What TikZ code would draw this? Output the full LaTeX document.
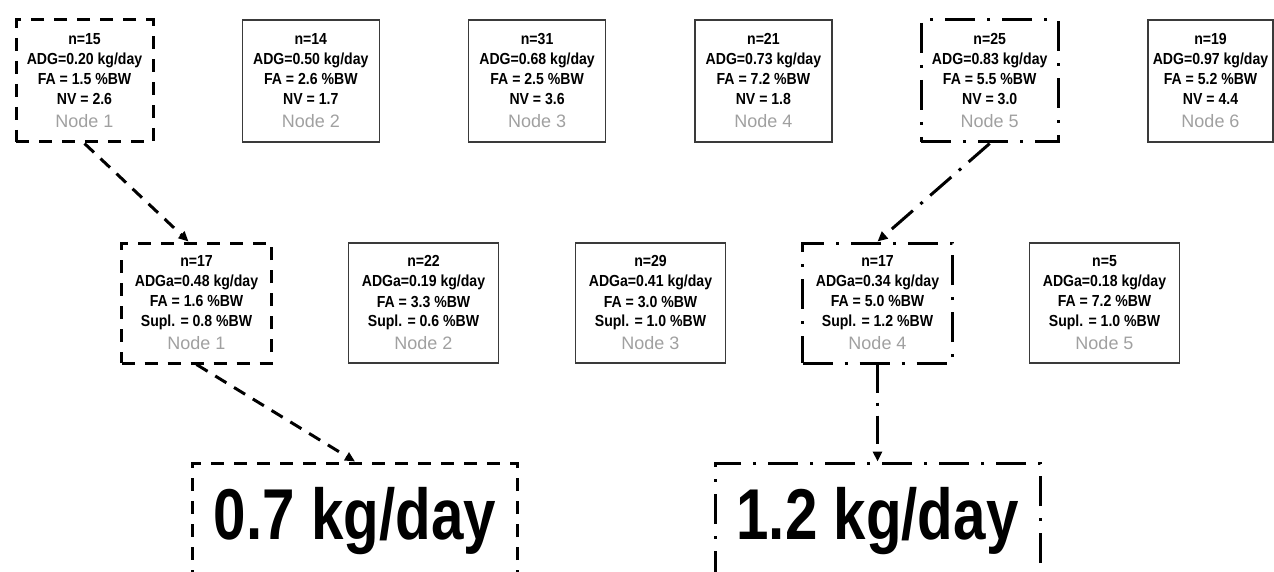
\documentclass[tikz,border=0pt]{standalone}
\usepackage{fontspec}
\setmainfont{Liberation Sans}
\newfontfamily\narrowfont{Liberation Sans}[FakeStretch=0.88]
\newfontfamily\bignarrow{Liberation Sans}[FakeStretch=0.81]
\usetikzlibrary{arrows.meta}
\definecolor{lbl}{HTML}{A0A0A0}
\definecolor{edgec}{HTML}{3A3A3A}
\tikzset{
 box/.style={rectangle, align=center, inner sep=0pt, font=\narrowfont\bfseries\fontsize{16}{20}\selectfont},
 topbox/.style={box, minimum width=137pt, minimum height=122pt},
 midbox/.style={box, minimum width=150pt, minimum height=120pt},
 plainbox/.style={draw=edgec, line width=1.5pt},
 dashbox/.style={draw=black, line width=3pt, dash pattern=on 13pt off 10pt},
 dotbox/.style={draw=black, line width=3pt, dash pattern=on 30pt off 12pt on 3pt off 12pt},
 bigbox/.style={rectangle, inner sep=0pt, minimum width=325pt, minimum height=117pt, font=\bignarrow\bfseries\fontsize{72}{80}\selectfont},
 conn/.style={line width=3pt, -{Triangle[length=10pt,width=9pt]}},
 dashconn/.style={conn, dash pattern=on 13pt off 9pt},
 dotconn/.style={conn, dash pattern=on 28pt off 10pt on 3pt off 10pt},
}
\newcommand{\nlab}[1]{\\[3pt]{\normalfont\fontsize{18}{20}\selectfont\color{lbl}#1}}
\begin{document}
\begin{tikzpicture}[x=1pt,y=-1pt]
\useasboundingbox (0,0) rectangle (1274,572);
\clip (0,0) rectangle (1274,572);
% top row
\node[topbox,dashbox] (t1) at (84.5,81) {n=15\\ADG=0.20 kg/day\\FA = 1.5 \%BW\\NV = 2.6\nlab{Node 1}};
\node[topbox,plainbox] (t2) at (310.8,81) {n=14\\ADG=0.50 kg/day\\FA = 2.6 \%BW\\NV = 1.7\nlab{Node 2}};
\node[topbox,plainbox] (t3) at (537.1,81) {n=31\\ADG=0.68 kg/day\\FA = 2.5 \%BW\\NV = 3.6\nlab{Node 3}};
\node[topbox,plainbox] (t4) at (763.4,81) {n=21\\ADG=0.73 kg/day\\FA = 7.2 \%BW\\NV = 1.8\nlab{Node 4}};
\node[topbox,dotbox] (t5) at (989.7,81) {n=25\\ADG=0.83 kg/day\\FA = 5.5 \%BW\\NV = 3.0\nlab{Node 5}};
\node[topbox,plainbox,minimum width=125pt] (t6) at (1210.5,81) {n=19\\ADG=0.97 kg/day\\FA = 5.2 \%BW\\NV = 4.4\nlab{Node 6}};
% middle row
\node[midbox,dashbox] (m1) at (196.5,303) {n=17\\ADGa=0.48 kg/day\\FA = 1.6 \%BW\\Supl. = 0.8 \%BW\nlab{Node 1}};
\node[midbox,plainbox] (m2) at (423.5,303) {n=22\\ADGa=0.19 kg/day\\FA = 3.3 \%BW\\Supl. = 0.6 \%BW\nlab{Node 2}};
\node[midbox,plainbox] (m3) at (650.5,303) {n=29\\ADGa=0.41 kg/day\\FA = 3.0 \%BW\\Supl. = 1.0 \%BW\nlab{Node 3}};
\node[midbox,dotbox] (m4) at (877.5,303) {n=17\\ADGa=0.34 kg/day\\FA = 5.0 \%BW\\Supl. = 1.2 \%BW\nlab{Node 4}};
\node[midbox,plainbox] (m5) at (1104.5,303) {n=5\\ADGa=0.18 kg/day\\FA = 7.2 \%BW\\Supl. = 1.0 \%BW\nlab{Node 5}};
% bottom
\node[bigbox,dashbox] (b1) at (355,521.5) {0.7 kg/day};
\node[bigbox,dotbox] (b2) at (877.5,521.5) {1.2 kg/day};
% connectors
\draw[dashconn] (t1.south) -- ([xshift=-8pt]m1.north);
\draw[dashconn] (m1.south) -- (b1.north);
\draw[dotconn] (t5.south) -- (m4.north);
\draw[dotconn] (m4.south) -- (b2.north);
\end{tikzpicture}
\end{document}
